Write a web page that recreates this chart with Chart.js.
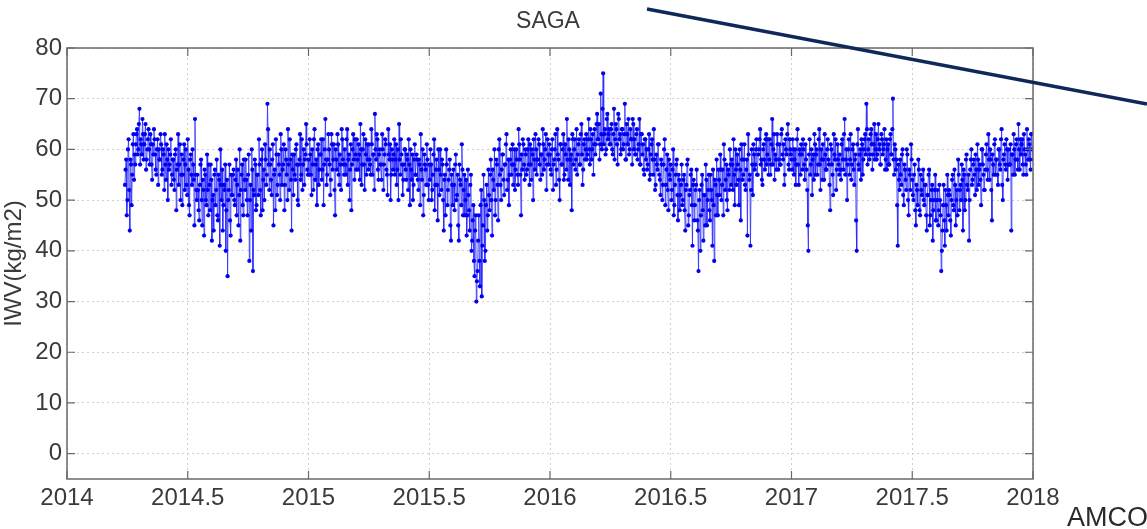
<!DOCTYPE html>
<html>
<head>
<meta charset="utf-8">
<script src="https://cdn.jsdelivr.net/npm/chart.js@4.4.1/dist/chart.umd.min.js"></script>
<style>
html,body{margin:0;padding:0;background:#fff;}
#wrap{position:relative;width:1147px;height:529px;}
canvas{display:block;}
</style>
</head>
<body>
<div id="wrap"><canvas id="c" width="1147" height="529"></canvas></div>
<script>
// ---- data ----
const chartTitle = 'SAGA';
const yAxisTitle = 'IWV(kg/m2)';
const cornerLabel = 'AMCO';
const xTicks = [2014, 2014.5, 2015, 2015.5, 2016, 2016.5, 2017, 2017.5, 2018];
const yTicks = [0, 10, 20, 30, 40, 50, 60, 70, 80];
const startYear = 2014.24;
const stepYear = 0.005;   // samples "A" at start + i*step, samples "B" half a step later
const iwv2014 = [
53,58,50,62,44,57,55,63,59,61,
64,60,68,62,59,63,61,65,58,62,
60,63,57,61,64,59,55,62,60,58,
61,56,59,63,54,58,60,57,62,55,
58,52,60,56,63,57,50,59,55,61,
57,53,62,49,58,55,60,54,66,52,
55,48,53,58,45,52,56,50,59,47,
53,57,42,51,55,49,58,46,54,60,
50,44,53,57,48,35,52,46,55,51,
56,49,58,53,45,60,52,57,47,54,
58,50,55,38,53,60,36,51,57,49,
55,62,52,58,48,56,61,53,69,57,
60,54,58,45,56,62,51,59,55,63,
53,57,48,60,55,64,52,58,44,56,
59,54,61,50,57,63,55,52,60,58,65,56];
const iwv2014b = [
56,47,60,52,58,49,61,54,57,63,
59,65,57,61,66,58,63,56,60,64,
57,61,54,59,62,56,60,53,58,63,
55,60,52,57,61,50,56,59,53,58,
54,59,48,57,53,61,55,49,58,52,
60,51,56,47,59,53,57,45,55,50,
52,46,57,50,54,43,55,49,52,57,
48,54,50,44,56,52,47,55,41,53,
56,49,52,40,54,50,57,43,51,55,
50,54,47,56,51,42,55,49,58,52,
54,47,59,50,44,56,52,58,48,55,
51,57,47,60,54,50,58,55,64,52,
57,51,61,55,48,59,53,57,50,60,
56,61,53,58,50,57,62,54,59,51,
55,60,57,49,58,54,62,57,53,59,61,55];
const iwv2015 = [
58,62,55,60,52,64,57,49,61,56,
59,54,62,57,66,53,58,60,51,63,
56,61,47,58,63,55,59,52,62,57,
60,55,64,58,50,61,57,63,54,59,
62,56,59,65,53,60,57,62,55,58,
61,57,64,55,59,67,58,62,54,60,
57,63,52,59,61,55,64,58,50,60,
56,62,58,53,60,65,55,59,51,57,
60,54,58,62,49,56,59,53,61,55,
58,52,57,63,54,47,59,56,61,53,
57,60,50,55,62,53,58,46,56,60,
52,57,44,55,60,49,54,58,42,53,
56,48,59,51,45,57,53,61,47,55,
50,43,56,48,53,40,46,38,44,30,
36,47,33,52,41,55,38,49,44,56,
48,58,43,54,60,50,57,46,62,53,
56,59,51,57,63,54,49,58,55,61,
57,52,60,55,64,58,47,56,61,54,
59,56,62,53,57,60,50,58,63,55,
58,61,54,59,64,56,60,52,62,57];
const iwv2015b = [
55,59,51,57,62,54,58,60,53,59,
62,56,49,60,58,55,63,57,54,61,
58,52,60,56,61,53,57,64,58,55,
57,62,53,59,56,48,60,58,62,56,
58,61,54,60,57,63,52,59,61,56,
58,55,61,59,52,60,63,56,59,57,
54,60,57,62,56,51,59,61,55,58,
59,55,61,56,50,58,62,57,54,60,
56,59,52,57,60,54,50,58,55,59,
54,58,49,56,60,51,57,53,58,50,
54,57,52,59,48,56,53,60,51,55,
58,50,54,47,57,52,56,45,55,49,
53,57,50,55,42,54,49,56,52,47,
54,47,51,44,55,42,49,35,47,34,
42,38,49,31,45,50,40,53,47,51,
55,50,56,52,47,58,53,60,55,50,
59,54,57,61,52,58,55,60,57,53,
60,56,58,53,61,55,59,62,57,60,
55,60,57,61,54,59,62,56,60,58,
62,57,59,55,61,58,63,57,59,61];
const iwv2016 = [
59,55,62,57,60,53,64,58,50,61,
57,63,55,59,66,54,60,58,48,62,
60,56,64,59,62,57,65,53,61,58,
63,59,66,57,62,60,55,64,61,67,
62,58,71,60,75,63,59,66,62,64,
61,65,59,68,62,64,57,66,63,60,
64,61,69,58,63,66,60,62,57,65,
62,59,64,60,66,57,63,61,55,62,
60,57,63,55,61,58,64,52,59,56,
61,54,58,50,57,62,53,59,48,55,
57,52,60,49,55,58,46,54,51,57,
50,55,44,53,58,47,52,56,41,54,
49,53,46,36,52,47,55,42,51,57,
45,52,48,55,50,56,38,53,58,47,
54,59,50,56,61,52,57,48,55,60,
53,57,62,49,56,59,54,60,46,58,
55,61,52,58,63,54,41,60,51,59,
57,62,55,60,64,58,53,61,56,63,
59,55,62,57,66,60,54,58,63,56,
61,57,64,58,53,62,59,65,56,60];
const iwv2016b = [
56,60,52,58,63,56,59,54,61,57,
60,54,61,56,58,62,53,59,63,57,
62,58,55,61,57,63,59,56,62,60,
58,62,60,64,58,63,61,59,65,62,
65,61,63,68,61,64,60,67,63,61,
64,60,63,58,65,61,67,62,59,64,
60,63,58,65,61,59,64,62,66,60,
59,63,58,61,57,63,59,56,62,58,
56,60,54,59,62,55,58,53,57,61,
55,51,57,53,60,49,56,52,58,54,
50,56,47,53,57,51,55,48,53,49,
54,48,52,57,45,51,55,49,53,46,
52,56,44,50,40,53,48,51,45,54,
50,55,46,52,41,49,54,47,51,56,
51,56,53,47,58,54,50,56,52,57,
58,52,55,60,53,57,49,56,61,54,
58,53,56,43,59,55,52,57,61,56,
60,55,59,62,57,54,60,58,62,57,
62,58,55,61,57,63,59,56,61,58,
57,63,59,61,55,60,63,57,62,59];
const iwv2017 = [
58,62,55,60,57,64,53,59,61,56,
60,54,58,52,40,62,57,51,59,63,
55,60,57,64,52,58,61,54,59,56,
62,57,48,60,55,63,58,52,61,57,
59,54,62,56,66,58,50,60,55,63,
57,61,53,59,40,64,56,60,62,55,
60,63,69,57,62,59,64,56,61,58,
63,59,65,61,57,62,60,64,58,56,
61,57,63,59,70,55,60,58,41,54,
58,53,60,49,56,52,59,47,55,61,
54,50,57,45,52,58,48,55,51,56,
49,53,44,51,56,47,52,42,50,55,
46,52,48,50,36,44,53,41,49,55,
47,51,43,54,49,56,45,52,58,48,
53,57,44,55,50,59,52,42,56,60,
54,58,51,56,61,53,57,49,60,55,
52,59,56,63,54,58,46,57,61,55,
58,53,60,56,64,50,59,57,62,54,
60,57,44,59,63,55,61,58,65,56,
59,62,55,60,57,64,58,61,56,63,
58];
const iwv2017b = [
56,60,58,53,62,57,60,55,59,62,
57,61,56,45,59,55,60,58,54,61,
59,55,62,57,60,54,58,63,56,60,
58,53,61,57,51,59,62,56,58,55,
56,61,58,63,55,60,57,62,58,54,
60,56,58,46,61,57,59,54,61,58,
62,59,64,60,58,63,61,59,65,60,
58,62,60,57,63,59,61,56,62,60,
57,62,59,64,58,61,56,49,57,52,
55,59,51,57,54,60,50,56,52,58,
51,55,48,53,49,56,47,52,54,50,
53,47,51,55,45,50,53,48,52,46,
50,45,53,47,40,49,46,52,44,51,
52,46,50,55,48,53,50,47,55,52,
50,54,56,48,58,53,55,50,58,53,
57,55,59,52,58,56,54,60,57,52,
56,61,54,58,60,52,59,55,62,58,
55,60,57,62,53,58,61,56,60,57,
57,61,59,55,60,58,62,56,60,62,
61,57,63,59,55,60,62,58,63,60];

// ---- build chart ----
const seriesA = [].concat(iwv2014, iwv2015, iwv2016, iwv2017);
const seriesB = [].concat(iwv2014b, iwv2015b, iwv2016b, iwv2017b);
const points = [];
seriesA.forEach((v, i) => {
  points.push({x: startYear + i * stepYear, y: v});
  if (i < seriesB.length) points.push({x: startYear + (i + 0.5) * stepYear, y: seriesB[i]});
});

const FONT = "'Liberation Sans', Arial, sans-serif";
const TXT = '#3a3a3a';

const overlay = {
  id: 'overlay',
  afterDraw(chart) {
    const ctx = chart.ctx;
    const a = chart.chartArea;
    const xs = chart.scales.x, ys = chart.scales.y;
    ctx.save();
    ctx.strokeStyle = '#6a6a6a';
    ctx.lineWidth = 1.5;
    ctx.strokeRect(a.left, a.top, a.right - a.left, a.bottom - a.top);
    ctx.lineWidth = 1.2;
    ctx.beginPath();
    const tl = 8;
    xTicks.forEach(v => {
      const px = xs.getPixelForValue(v);
      ctx.moveTo(px, a.bottom); ctx.lineTo(px, a.bottom - tl);
      ctx.moveTo(px, a.top); ctx.lineTo(px, a.top + tl);
    });
    yTicks.forEach(v => {
      const py = ys.getPixelForValue(v);
      ctx.moveTo(a.left, py); ctx.lineTo(a.left + tl, py);
      ctx.moveTo(a.right, py); ctx.lineTo(a.right - tl, py);
    });
    ctx.stroke();
    ctx.fillStyle = TXT;
    ctx.font = '23px ' + FONT;
    ctx.textAlign = 'center';
    ctx.textBaseline = 'alphabetic';
    ctx.fillText(chartTitle, 548, 28);
    ctx.fillStyle = '#2a2a2a';
    ctx.font = '27px ' + FONT;
    ctx.textAlign = 'left';
    ctx.fillText(cornerLabel, 1067, 526);
    ctx.strokeStyle = '#0f2858';
    ctx.lineWidth = 3.5;
    ctx.beginPath();
    ctx.moveTo(647, 9);
    ctx.lineTo(1147, 104);
    ctx.stroke();
    ctx.restore();
  }
};

new Chart(document.getElementById('c'), {
  type: 'scatter',
  data: {
    datasets: [{
      data: points,
      showLine: true,
      borderColor: '#2a2aff',
      borderWidth: 0.8,
      backgroundColor: '#0000ee',
      pointBorderColor: '#0000ee',
      pointBackgroundColor: '#0000ee',
      pointRadius: 2.1,
      pointBorderWidth: 0,
      pointStyle: 'circle',
      tension: 0
    }]
  },
  options: {
    responsive: false,
    animation: false,
    devicePixelRatio: 1,
    layout: {padding: {top: 48, right: 114, bottom: 0, left: 0}},
    plugins: {legend: {display: false}, tooltip: {enabled: false}, title: {display: false}},
    scales: {
      x: {
        type: 'linear', min: 2014, max: 2018,
        afterBuildTicks: s => { s.ticks = xTicks.map(v => ({value: v})); },
        afterFit: s => { s.height = 50; },
        ticks: {
          color: TXT, font: {family: FONT, size: 24}, padding: 5, maxRotation: 0,
          autoSkip: false,
          callback: v => String(v)
        },
        grid: {color: '#cfcfcf', lineWidth: 1, drawTicks: false},
        border: {display: false, dash: [2, 3]}
      },
      y: {
        type: 'linear', min: -5, max: 80,
        afterBuildTicks: s => { s.ticks = yTicks.map(v => ({value: v})); },
        afterFit: s => { s.width = 67; },
        ticks: {color: TXT, font: {family: FONT, size: 24}, padding: 5, autoSkip: false},
        grid: {color: '#cfcfcf', lineWidth: 1, drawTicks: false},
        border: {display: false, dash: [2, 3]},
        title: {display: true, text: yAxisTitle, color: TXT, font: {family: FONT, size: 24}, padding: 0}
      }
    }
  },
  plugins: [overlay]
});
</script>
</body>
</html>
